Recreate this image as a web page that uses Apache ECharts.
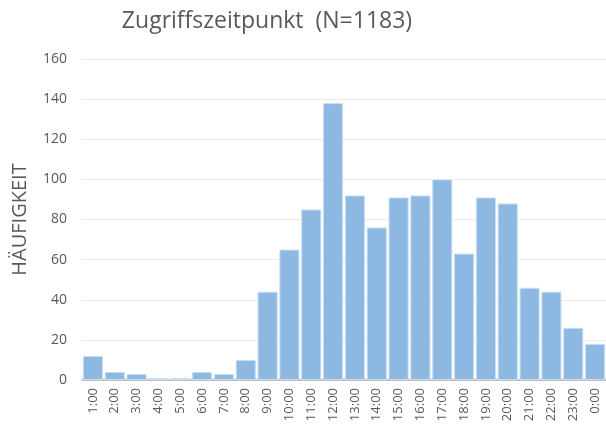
<!DOCTYPE html>
<html>
<head>
<meta charset="utf-8">
<script src="https://cdn.jsdelivr.net/npm/echarts@6/dist/echarts.min.js"></script>
<style>
  html, body { margin: 0; padding: 0; background: #fff; }
  #chart { width: 606px; height: 427px; }
</style>
</head>
<body>
<div id="chart"></div>
<script>
// Stunden (Kategorien)
const hours = ["1:00", "2:00", "3:00", "4:00", "5:00", "6:00", "7:00", "8:00",
  "9:00", "10:00", "11:00", "12:00", "13:00", "14:00", "15:00", "16:00",
  "17:00", "18:00", "19:00", "20:00", "21:00", "22:00", "23:00", "0:00"];
// Häufigkeit je Stunde
const counts = [12, 4, 3, 1, 1, 4, 3, 10, 44, 65, 85, 138, 92, 76, 91, 92,
  100, 63, 91, 88, 46, 44, 26, 18];
const yTicks = [0, 20, 40, 60, 80, 100, 120, 140, 160];

const chart = echarts.init(document.getElementById("chart"));

const options = {
  animation: false,
  title: {
    text: "Zugriffszeitpunkt  (N=1183)",
    left: 262,
    textAlign: "center",
    top: 5,
    textStyle: {
      fontFamily: "Open Sans",
      fontWeight: "normal",
      fontSize: 23,
      color: "#595959",
    },
  },
  grid: {
    left: 82,
    right: 0,
    top: 59,
    bottom: 47,
  },
  xAxis: {
    type: "category",
    data: hours,
    axisLine: { lineStyle: { color: "#bfbfbf", width: 2 } },
    axisTick: { show: false },
    axisLabel: {
      rotate: 90,
      interval: 0,
      margin: 8,
      fontFamily: "Open Sans",
      fontSize: 13,
      color: "#595959",
    },
  },
  yAxis: {
    type: "value",
    min: yTicks[0],
    max: yTicks[yTicks.length - 1],
    interval: 20,
    name: "HÄUFIGKEIT",
    nameLocation: "middle",
    nameGap: 52,
    nameTextStyle: {
      fontFamily: "Open Sans",
      fontSize: 20,
      color: "#595959",
    },
    axisLine: { show: false },
    axisTick: { show: false },
    axisLabel: {
      margin: 15,
      fontFamily: "Open Sans",
      fontSize: 14,
      color: "#595959",
    },
    splitLine: { lineStyle: { color: "#ececec", width: 1 } },
  },
  series: [
    {
      type: "bar",
      data: counts,
      barCategoryGap: "8%",
      itemStyle: {
        color: "#8cb8e2",
        borderColor: "#c9def2",
        borderWidth: 1,
      },
    },
  ],
};

chart.setOption(options);
</script>
</body>
</html>
